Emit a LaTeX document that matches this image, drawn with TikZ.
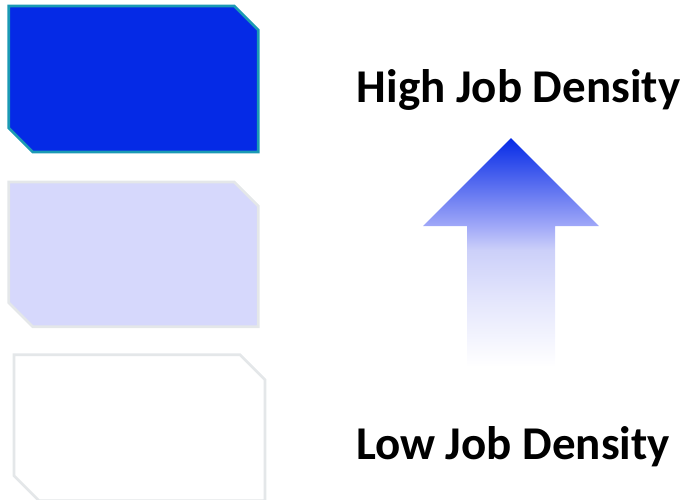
\documentclass[tikz,border=0pt]{standalone}
\usepackage{fontspec}
\setmainfont{Carlito}
\usetikzlibrary{positioning}
\definecolor{highblue}{HTML}{052AE6}
\definecolor{tealedge}{HTML}{1B9AB4}
\definecolor{midfill}{HTML}{D6D8FC}
\definecolor{paleedge}{HTML}{E4E7E9}
\pgfdeclareverticalshading{jobfade}{100bp}{
    color(0bp)=(white); color(25bp)=(white);
    color(39.6bp)=(rgb,255:red,228;green,230;blue,252);
    color(50.5bp)=(rgb,255:red,204;green,208;blue,249);
    color(55.8bp)=(rgb,255:red,160;green,168;blue,248);
    color(75bp)=(highblue); color(100bp)=(highblue)}
\tikzset{
    box/.style={line width=2.7pt, line join=miter},
    highbox/.style={box, draw=tealedge, fill=highblue},
    midbox/.style={box, draw=paleedge, fill=midfill},
    lowbox/.style={box, draw=paleedge, fill=white},
    densitytext/.style={font=\fontsize{47}{50}\selectfont\bfseries, anchor=base},
}

\begin{document}
\begin{tikzpicture}[x=1pt,y=-1pt]
    \useasboundingbox (0,0) rectangle (686,499);

    % density scale boxes
    \draw[highbox] (8.7,6) -- (234.3,6) -- (258.3,30) -- (258.3,152)
        -- (32.7,152) -- (8.7,128) -- cycle;
    \draw[midbox] (8.7,182) -- (234.3,182) -- (258.3,206) -- (258.3,326.7)
        -- (32.7,326.7) -- (8.7,302.7) -- cycle;
    \draw[lowbox] (14,354.7) -- (240,354.7) -- (265,379.7) -- (265,500.7)
        -- (39,500.7) -- (14,475.7) -- cycle;

    % arrow
    \shade[shading=jobfade]
        (511,138) -- (599,226) -- (555,226) -- (555,367)
        -- (467,367) -- (467,226) -- (423,226) -- cycle;

    \node[densitytext] (high) at (518.5,102) {High Job Density};
    \node[densitytext] (low) at (513,459) {Low Job Density};
\end{tikzpicture}
\end{document}
